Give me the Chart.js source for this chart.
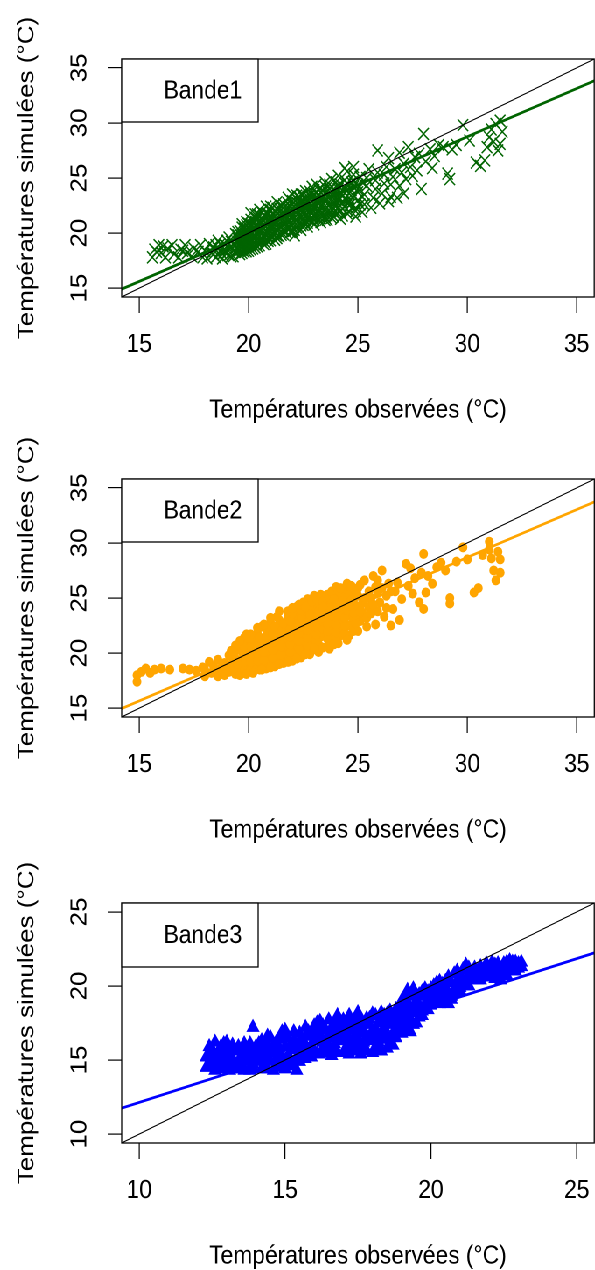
<!DOCTYPE html>
<html><head><meta charset="utf-8">
<script src="https://cdn.jsdelivr.net/npm/chart.js@4.4.1/dist/chart.umd.min.js"></script>
<style>
html,body{margin:0;padding:0;background:#fff;overflow:hidden;width:595px;height:1270px;}
#wrap{position:absolute;left:0;top:0;width:690px;height:1280px;transform:scaleX(0.875);transform-origin:0 0;}
canvas{position:absolute;left:0;}
</style></head><body>
<div id="wrap">
<canvas id="c1" width="690" height="440" style="top:0px"></canvas>
<canvas id="c2" width="690" height="440" style="top:420px"></canvas>
<canvas id="c3" width="690" height="440" style="top:840px"></canvas>
</div>
<script>
// ---------- data ----------
const bandLabels = ['Bande1', 'Bande2', 'Bande3'];
const xTitle = 'Températures observées (°C)';
const yTitle = 'Températures simulées (°C)';
const ticks12 = [15, 20, 25, 30, 35];
const ticks3 = [10, 15, 20, 25];
const range12 = [14.2, 35.8];
const range3 = [9.4, 25.6];
// regression lines: [intercept, slope]
const fit1 = [2.48, 0.8755];
const fit2 = [2.63, 0.8685];
const fit3 = [5.67, 0.647];

const bande1 = [
[15.6,17.8],[15.7,18.5],[15.9,18.9],[16.0,18.2],[16.2,17.8],[16.3,18.6],[16.5,18.9],[16.6,18.1],[16.8,17.8],[16.9,18.5],
[17.1,18.9],[17.2,18.2],[17.4,17.9],[17.5,18.6],[17.7,18.3],[17.8,18.9],[17.9,17.8],[16.1,18.8],[17.0,18.4],[15.8,18.3],
[18.0,18.4],[18.1,17.7],[18.2,19.0],[18.3,18.2],[18.4,18.7],[18.5,17.8],[18.6,19.3],[18.7,18.4],[18.8,17.7],[18.9,19.0],
[19.0,18.2],[19.1,19.6],[19.2,18.7],[19.3,17.9],[19.4,19.9],[19.5,18.5],[18.5,18.9],[18.9,18.5],[19.2,19.2],[19.4,18.9],
[19.6,18.1],[19.6,18.8],[19.6,19.5],[19.6,20.2],[19.7,20.8],
[19.8,18.3],[19.8,19.0],[19.8,19.7],[19.8,20.4],[19.9,21.0],
[20.0,18.4],[20.0,19.1],[20.0,19.8],[20.0,20.5],[20.1,21.2],[20.1,21.8],
[20.2,18.6],[20.2,19.3],[20.2,20.0],[20.3,20.7],[20.3,21.4],
[20.4,18.8],[20.4,19.5],[20.5,20.2],[20.5,20.9],[20.5,21.6],[20.5,22.1],
[20.7,19.0],[20.7,19.7],[20.7,20.4],[20.7,21.1],[20.8,21.8],[20.8,22.4],
[20.9,19.3],[20.9,20.0],[21.0,20.7],[21.0,21.4],[21.0,22.1],
[21.2,19.4],[21.2,20.1],[21.2,20.8],[21.2,21.5],[21.3,22.2],[21.3,22.8],
[21.4,19.7],[21.4,20.4],[21.5,21.1],[21.5,21.8],[21.5,22.5],
[21.6,19.9],[21.7,20.6],[21.7,21.3],[21.7,22.0],[21.8,22.7],[21.8,23.2],
[21.9,20.1],[21.9,20.8],[22.0,21.5],[22.0,22.2],[22.0,22.9],[22.0,23.5],
[22.1,19.8],[22.2,20.5],[22.2,21.2],[22.3,21.9],[22.3,22.6],[22.3,23.3],
[22.4,20.3],[22.5,21.0],[22.5,21.7],[22.5,22.4],[22.6,23.1],[22.6,23.8],
[22.7,20.6],[22.7,21.3],[22.8,22.0],[22.8,22.7],[22.8,23.4],[22.9,24.2],
[23.0,20.8],[23.0,21.5],[23.0,22.2],[23.1,22.9],[23.1,23.6],[23.1,24.4],
[23.3,21.0],[23.3,21.7],[23.3,22.4],[23.4,23.1],[23.4,23.8],[23.5,24.6],
[23.6,21.2],[23.6,21.9],[23.7,22.6],[23.7,23.3],[23.7,24.0],[23.8,24.9],
[23.9,21.5],[23.9,22.2],[24.0,22.9],[24.0,23.6],[24.1,24.3],[24.1,25.2],
[24.2,21.3],[24.2,22.0],[24.3,22.7],[24.3,23.4],[24.4,24.1],[24.4,24.8],[24.5,25.6],
[24.5,21.8],[24.6,22.5],[24.6,23.2],[24.7,23.9],[24.7,24.6],[24.8,25.3],
[24.9,21.5],[24.9,22.3],[25.0,23.0],[25.0,23.7],[25.0,24.4],[25.1,25.1],[24.8,26.0],[24.4,25.9],
[25.2,21.9],[25.3,22.6],[25.3,23.5],[25.4,24.3],[25.4,25.0],[25.5,25.8],
[25.6,22.3],[25.7,23.2],[25.8,24.0],[25.8,24.8],[25.9,25.5],[25.9,27.5],
[26.0,22.7],[26.1,23.6],[26.2,24.5],[26.2,25.3],[26.3,26.0],[26.4,26.8],
[26.5,23.3],[26.5,24.4],[26.6,25.1],[26.7,25.8],[26.8,23.2],[26.4,22.9],
[26.9,24.3],[27.0,25.5],[27.1,26.3],[27.2,24.9],[27.3,27.8],[27.4,26.0],[27.5,25.2],[27.6,26.9],[27.7,25.7],[27.8,27.2],
[27.9,24.0],[28.0,29.0],[28.1,26.5],[28.3,27.6],[28.5,27.0],[28.7,28.0],[28.9,27.8],[28.4,25.9],[27.1,23.6],[26.9,27.3],
[29.1,25.4],[29.2,24.9],[29.3,27.6],[29.5,28.0],[29.8,29.8],[30.1,28.4],[30.4,26.4],[30.6,26.1],[30.8,26.6],
[30.9,27.8],[31.0,28.7],[31.1,29.4],[31.3,29.9],[31.4,27.5],[31.5,28.1],[31.6,29.2],[31.2,28.3],[31.5,30.2],
[19.7,18.5],[19.7,19.2],[19.7,19.9],[19.9,18.7],[19.9,19.4],[19.9,20.1],[19.9,20.7],[20.1,18.8],[20.1,19.5],[20.1,20.2],
[20.1,20.8],[20.3,19.0],[20.3,19.7],[20.3,20.4],[20.3,21.0],[20.4,21.7],[20.6,19.2],[20.6,19.9],[20.6,20.6],[20.6,21.3],
[20.8,19.4],[20.8,20.1],[20.8,20.8],[20.8,21.5],[21.1,19.6],[21.1,20.3],[21.1,21.0],[21.1,21.7],[21.1,22.3],[21.3,19.8],
[21.3,20.5],[21.3,21.2],[21.4,21.9],[21.6,20.2],[21.6,20.9],[21.6,21.6],[21.6,22.3],[21.8,20.4],[21.8,21.1],[21.8,21.8],
[21.9,22.4],[22.1,20.3],[22.1,21.0],[22.1,21.7],[22.1,22.4],[22.2,23.1],[22.4,20.7],[22.4,21.4],[22.4,22.1],[22.4,22.8],
[22.4,23.5],[22.6,20.9],[22.6,21.6],[22.6,22.3],[22.7,23.0],[22.9,21.1],[22.9,21.8],[22.9,22.5],[22.9,23.2],[23.0,23.9],
[23.2,21.3],[23.2,22.0],[23.2,22.7],[23.2,23.4],[23.3,24.1],[23.5,21.5],[23.5,22.2],[23.5,22.9],[23.5,23.6],[23.8,21.7],
[23.8,22.4],[23.8,23.1],[23.8,23.8],[24.0,22.0],[24.0,22.6],[24.1,23.3],[24.1,24.0],[24.3,22.2],[24.3,22.9],[24.4,23.6],
[24.6,22.8],[24.6,23.6],[24.8,24.2],[18.8,18.1],[19.0,18.8],[19.3,18.4],[19.5,19.2],[19.5,19.8],[18.6,18.6],[19.1,18.0],
[18.4,18.1],[18.6,18.0],[18.7,19.0],[18.9,18.3],[19.0,19.3],[19.1,18.6],[19.2,17.9],[19.3,19.0],[19.4,18.3],[19.5,19.5],[19.5,20.1],
[19.6,18.45],[19.6,19.15],[19.6,19.85],[19.7,18.2],[19.7,20.5],[19.8,18.65],[19.8,19.35],[19.8,20.05],[19.9,18.35],[19.9,20.4],
[20.0,18.75],[20.0,19.45],[20.0,20.15],[20.0,20.85],[20.1,18.5],[20.2,18.95],[20.2,19.65],[20.2,20.35],[20.2,21.05],[20.3,18.7],[20.3,21.7],
[20.4,19.15],[20.4,19.85],[20.4,20.55],[20.4,21.25],[20.5,18.9],[20.6,21.95],[20.6,19.55],[20.6,20.25],[20.6,20.95],[20.7,21.65],
[20.8,19.05],[20.9,19.65],[20.9,20.35],[20.9,21.05],[20.9,21.75],[21.0,19.35],[21.0,22.4],[21.1,19.95],[21.1,20.65],[21.1,21.35],[21.2,22.05],
[21.3,19.55],[21.3,20.25],[21.3,20.95],[21.4,21.55],[21.4,22.25],[21.5,19.85],[21.5,20.55],[21.5,21.45],[21.6,22.6],[21.7,20.15],[21.7,20.95],[21.7,21.65],[21.8,22.35],
[21.9,20.45],[21.9,21.15],[21.9,21.85],[22.0,20.2],[22.0,22.55],[22.1,20.65],[22.1,21.35],[22.1,22.05],[22.2,22.75],[22.2,23.4],
[22.3,20.5],[22.3,21.55],[22.3,22.25],[22.4,22.95],[22.5,20.75],[22.5,21.35],[22.5,22.05],[22.5,23.45],[22.6,22.7],[22.7,20.95],[22.7,21.65],[22.7,22.35],[22.7,23.3],
[22.8,21.2],[22.8,23.75],[22.9,21.45],[22.9,22.15],[22.9,22.85],[23.0,21.15],[23.0,23.55],[23.1,21.75],[23.1,22.45],[23.1,23.25],[23.2,23.95],
[23.3,21.35],[23.3,22.05],[23.4,22.75],[23.4,23.45],[23.5,21.2],[23.5,24.2],[23.6,21.6],[23.6,22.3],[23.6,23.05],[23.6,23.75],[23.7,24.4],
[23.8,21.4],[23.9,21.9],[23.9,22.6],[23.9,23.3],[23.9,24.0],[24.0,21.65],[24.0,24.6],[24.1,22.3],[24.1,23.0],[24.2,23.7],[24.2,24.4],
[24.3,21.6],[24.4,22.4],[24.4,23.1],[24.5,23.8],[24.5,24.5],[24.6,21.9],[24.7,22.7],[24.8,23.4],[24.8,24.7],[24.9,22.0],[25.0,24.0],[25.1,22.6],[25.2,23.3],[25.2,24.6]
];

const bande2 = [
[14.9,17.4],[14.9,18.0],[15.1,18.3],[15.3,18.6],[15.5,18.2],[15.7,18.5],[16.0,18.6],[16.4,18.5],[17.0,18.6],[17.3,18.5],[17.6,18.4],[17.9,18.7],
[18.0,17.9],[18.0,18.5],[18.2,19.2],[18.3,18.2],[18.4,18.8],[18.6,17.9],[18.6,19.4],[18.7,18.5],[18.9,18.0],[18.9,19.1],
[19.1,18.3],[19.1,19.8],[19.2,18.9],[19.4,18.1],[19.4,19.5],[19.5,20.3],
[19.6,18.0],[19.6,18.7],[19.7,19.4],[19.7,20.1],[19.7,20.8],[19.8,21.4],
[19.9,18.2],[19.9,18.9],[20.0,19.6],[20.0,20.3],[20.0,21.0],
[20.2,18.3],[20.2,19.0],[20.3,19.7],[20.3,20.4],[20.3,21.1],[20.4,21.8],
[20.5,18.5],[20.5,19.2],[20.6,19.9],[20.6,20.6],[20.6,21.3],[20.6,22.4],
[20.8,18.6],[20.8,19.3],[20.9,20.0],[20.9,20.7],[20.9,21.4],[21.0,22.1],[21.0,22.8],
[21.2,18.8],[21.2,19.5],[21.2,20.2],[21.3,20.9],[21.3,21.6],[21.3,22.3],[21.4,23.0],[21.4,23.8],
[21.6,19.1],[21.6,19.8],[21.6,20.5],[21.7,21.2],[21.7,21.9],[21.7,22.6],[21.8,23.3],
[22.0,19.3],[22.0,20.0],[22.0,20.7],[22.1,21.4],[22.1,22.1],[22.1,22.8],[22.2,23.5],[22.2,24.2],
[22.4,19.6],[22.4,20.3],[22.5,21.0],[22.5,21.7],[22.5,22.4],[22.5,23.1],[22.6,23.8],[22.7,24.9],
[22.8,19.9],[22.8,20.6],[22.9,21.3],[22.9,22.0],[22.9,22.7],[23.0,23.4],[23.0,24.1],[23.0,25.2],
[23.2,20.1],[23.2,20.8],[23.3,21.5],[23.3,22.2],[23.4,22.9],[23.4,23.6],[23.5,24.3],[23.5,25.0],
[23.7,20.4],[23.7,21.1],[23.8,21.8],[23.8,22.5],[23.8,23.2],[23.9,23.9],[23.9,24.6],[24.0,25.4],
[24.1,20.9],[24.2,21.6],[24.2,22.3],[24.2,23.0],[24.3,23.7],[24.3,24.4],[24.4,25.2],[24.5,25.8],
[24.6,21.6],[24.6,22.5],[24.7,23.3],[24.7,24.1],[24.8,24.9],[25.0,25.9],[25.0,22.0],[25.1,22.9],[25.2,23.7],[25.2,24.5],
[25.3,26.6],[25.4,23.2],[25.5,24.2],[25.6,25.0],[25.7,27.0],[25.8,22.6],[25.9,23.8],[25.9,25.5],[26.0,24.6],[26.1,27.5],
[26.2,23.3],[26.3,25.2],[26.4,26.3],[26.5,22.5],
[26.6,24.0],[26.7,25.6],[26.8,26.4],[26.9,23.0],[27.0,24.9],[27.2,28.1],[27.3,26.1],[27.4,27.7],[27.5,25.4],[27.6,26.8],
[27.8,24.6],[27.9,27.3],[28.0,29.0],[28.0,24.0],[28.1,25.5],[28.2,27.0],[28.4,26.3],[28.6,27.8],[28.8,28.2],[29.0,27.5],
[29.2,25.0],[29.2,24.5],[29.5,28.3],[29.8,29.6],[30.0,28.5],[30.3,25.5],[30.5,25.9],[30.7,28.9],[31.0,30.1],[31.1,28.6],
[31.2,27.5],[31.3,26.6],[31.4,29.2],[31.5,28.5],[31.5,27.3],[31.0,29.4],
[19.8,18.5],[19.8,19.2],[19.8,19.9],[19.8,20.6],[20.1,18.5],[20.1,19.2],[20.1,19.9],[20.1,20.6],[20.2,21.3],[20.4,18.6],
[20.4,19.3],[20.4,20.0],[20.4,20.7],[20.5,21.4],[20.7,18.7],[20.7,19.4],[20.7,20.1],[20.7,20.8],[20.8,21.6],[20.8,22.2],
[21.1,18.9],[21.1,19.6],[21.1,20.3],[21.1,21.0],[21.1,21.7],[21.2,22.4],[21.5,19.2],[21.5,19.9],[21.5,20.6],[21.5,21.3],
[21.5,22.0],[21.6,22.7],[21.9,19.4],[21.9,20.1],[21.9,20.8],[21.9,21.5],[21.9,22.2],[21.9,22.9],[22.0,23.6],[22.3,19.7],
[22.3,20.4],[22.3,21.1],[22.3,21.8],[22.3,22.5],[22.4,23.2],[22.4,23.9],[22.7,20.0],[22.7,20.7],[22.7,21.4],[22.7,22.1],
[22.7,22.8],[22.8,23.5],[22.8,24.3],[23.1,20.3],[23.1,21.0],[23.1,21.7],[23.1,22.4],[23.1,23.1],[23.2,23.8],[23.2,24.6],
[23.6,20.6],[23.6,21.3],[23.6,22.0],[23.6,22.7],[23.6,23.4],[23.7,24.1],[23.7,24.9],[24.0,21.2],[24.0,21.9],[24.0,22.6],
[24.0,23.3],[24.1,24.0],[24.1,24.8],[24.4,21.8],[24.4,22.5],[24.4,23.2],[24.5,23.9],[24.6,24.6],[24.3,25.6],[24.8,22.0],
[24.9,22.7],[24.9,23.5],[24.9,24.3],[25.0,25.2],[19.3,18.6],[19.3,19.3],[19.0,18.5],[18.8,18.9],[18.4,18.3],[19.5,19.0],
[21.8,23.8],[22.0,24.1],[22.3,24.4],[22.5,24.6],[22.6,24.2],[22.9,24.7],[23.1,25.0],[23.3,25.3],[23.4,24.7],[23.6,25.3],
[23.8,25.6],[24.0,26.0],[24.2,25.9],[24.3,25.0],[24.5,26.3],[24.6,25.3],[24.7,26.1],[24.9,25.6],[25.1,26.2],[24.5,21.2],
[23.0,20.4],[23.4,20.5],[23.9,20.8],[22.6,19.9],[22.2,19.5],[21.8,19.2],[21.4,19.0],[21.0,18.7],[20.6,18.5],[20.2,18.2],[19.9,18.1],
[21.3,23.3],[21.0,23.2],[20.7,22.6],[20.4,22.3],[20.1,21.7],[19.9,21.7],[19.6,21.1],[19.4,20.7],[19.2,20.2],
[23.4,24.2],[23.9,24.9],[24.3,24.7],[24.7,24.8],[24.8,23.7],[25.1,23.8],[25.3,25.0],[25.5,25.6],[25.4,22.4],[25.6,23.6],
[25.7,24.4],[25.8,26.0],[25.9,26.6],[26.1,25.9],[26.3,24.1],[26.5,25.6]
];

const bande3 = [
[12.3,15.2],[12.4,14.6],[12.5,15.7],[12.6,14.3],[12.7,15.0],[12.8,15.9],[12.9,14.5],[13.0,15.3],[13.1,14.3],[13.2,16.0],
[13.9,17.2],
[13.4,14.4],[13.5,15.3],[13.6,16.1],[13.8,14.3],[13.9,15.1],[14.0,15.9],[14.2,14.4],[14.3,15.2],[14.4,16.0],[14.5,16.5],
[14.6,14.3],[14.7,15.0],[14.8,15.8],[14.9,16.6],[15.0,14.4],[15.1,15.3],[15.2,16.1],[15.3,16.9],[15.4,14.3],[15.5,15.5],
[15.6,16.4],[15.7,17.2],[15.0,17.0],[14.2,16.3],
[15.8,15.3],[15.9,16.0],[16.0,16.8],[16.1,17.5],[16.2,15.4],[16.3,16.2],[16.4,17.0],[16.5,17.7],[16.6,15.3],[16.7,16.1],
[16.8,16.9],[16.9,17.6],[17.0,15.5],[17.0,16.3],[17.0,17.2],
[17.2,15.4],[17.3,16.2],[17.3,17.0],[17.4,17.8],[17.6,15.4],[17.7,16.2],[17.7,17.0],[17.8,17.8],[18.0,15.5],[18.0,16.3],
[18.1,17.1],[18.1,18.0],[18.3,15.6],[18.4,16.4],[18.4,17.2],[18.5,18.1],[18.7,16.0],[18.7,16.8],[18.8,17.6],[18.8,18.4],
[17.5,18.2],[16.8,18.0],
[19.0,16.8],[19.0,17.6],[19.1,18.4],[19.1,19.2],[19.3,16.9],[19.3,17.7],[19.4,18.5],[19.4,19.5],[19.6,18.7],[19.6,17.9],
[19.7,19.6],[19.8,18.8],[19.9,19.6],[20.0,18.7],[19.2,19.7],
[20.1,19.4],[20.2,20.2],[20.3,18.8],[20.4,19.6],[20.5,20.3],[20.6,18.8],[20.6,19.5],[20.8,19.8],[20.9,20.3],[21.0,19.7],
[21.1,21.1],[21.0,20.6],
[21.3,20.0],[21.4,20.8],[21.5,21.2],[21.7,20.4],[21.9,20.6],[22.0,21.2],[22.2,20.5],[22.3,21.5],[22.5,21.0],[22.6,21.6],
[22.8,21.3],[22.9,21.6],[23.1,21.3],[22.4,20.4],
[12.4,15.9],[12.5,14.9],[12.7,15.5],[12.8,14.4],[12.9,16.1],[13.0,14.8],[13.1,15.7],[13.3,14.7],[13.3,15.6],[13.5,14.6],
[13.6,15.7],[13.7,14.9],[13.8,15.6],[13.9,14.7],[14.0,15.4],[14.1,16.1],[14.1,14.9],[14.3,14.6],[14.3,15.7],[14.5,14.9],
[14.5,15.6],[14.7,16.2],[14.7,14.6],[14.8,15.4],[14.9,15.2],[15.0,15.9],[15.1,14.7],[15.2,15.7],[15.3,14.6],[15.3,16.3],
[15.5,14.9],[15.5,16.8],[15.6,15.9],[15.7,15.1],[15.8,16.6],[15.9,15.6],[16.0,17.3],[16.1,15.4],[16.1,16.3],[16.3,15.8],
[16.3,17.3],[16.5,15.6],[16.5,16.5],[16.6,17.2],[16.7,15.7],[16.8,16.4],[16.9,17.0],[17.1,15.8],[17.1,16.7],[17.2,17.5],
[17.4,15.8],[17.4,16.6],[17.5,17.3],[17.6,16.0],[17.6,16.8],[17.8,15.6],[17.9,16.5],[17.9,17.4],[18.0,18.1],[18.2,15.9],
[18.2,16.7],[18.2,17.5],[18.3,18.2],[18.5,15.8],[18.5,16.6],[18.6,17.4],[18.6,18.3],[18.9,17.2],[18.9,18.0],[19.0,19.0],
[19.2,17.3],[19.2,18.1],[19.2,18.8],[19.5,17.5],[19.5,18.2],[19.5,19.0],[19.7,18.3],[19.8,19.3],[19.9,18.4],[20.0,19.2],
[20.1,20.0],[20.2,18.9],[20.3,19.5],[20.4,20.1],[20.5,19.0],[20.7,19.3],[20.7,20.2],[20.8,20.8],[20.9,19.6],[21.0,20.1],
[21.2,20.3],[21.3,20.8],[21.5,20.5],[21.6,21.0],[21.8,20.7],[21.9,21.5],[22.1,20.9],[22.2,21.4],[22.4,21.0],[22.6,21.1],
[22.7,21.7],[22.9,21.0],[23.0,21.5],[21.9,21.3],[22.3,20.8],[21.2,21.4],[20.6,20.6],[19.4,19.8],[18.4,18.0],[17.2,18.0],
[16.2,17.6],[14.9,16.9],[14.4,16.6],
[12.3,14.5],[12.4,15.5],[12.6,15.3],[12.6,16.2],[12.7,14.6],[12.8,15.2],[12.9,15.7],[13.0,14.4],[13.0,16.2],[13.2,15.0],[13.2,14.4],
[13.4,15.9],[13.5,14.9],[13.6,14.3],[13.7,15.4],[13.8,16.1],[13.9,14.4],[14.0,15.0],[14.1,15.6],[14.2,15.0],[14.2,15.8],
[14.4,14.4],[14.4,15.3],[14.6,15.5],[14.6,16.0],[14.8,14.5],[14.8,16.4],[14.9,14.8],[15.1,16.5],[15.2,15.0],[15.4,15.2],
[15.4,15.9],[15.5,16.3],[15.6,15.4],[15.7,16.0],[15.8,16.9],
[15.9,15.2],[16.0,16.3],[16.0,15.5],[16.2,16.7],[16.2,17.2],[16.4,15.5],[16.4,16.3],[16.6,16.8],[16.7,17.5],[16.8,15.5],
[16.9,16.3],[17.0,17.7],[17.1,17.0],
[17.2,16.4],[17.3,15.6],[17.4,17.2],[17.5,16.2],[17.6,17.6],[17.7,15.7],[17.8,16.6],[17.9,17.8],[18.0,17.0],[18.1,15.8],
[18.2,16.2],[18.3,17.7],[18.4,16.9],
[18.5,17.6],[18.6,16.2],[18.7,17.9],[18.8,16.5],[18.8,17.0],[18.9,18.6],[19.0,18.2],[19.1,17.1],[19.2,17.9],[19.3,18.5],
[19.3,19.3],[19.4,17.4],[19.5,18.7],
[19.6,19.4],[19.7,18.0],[19.8,19.8],[19.9,18.9],[20.0,19.8],[20.1,18.9],[20.2,19.6],[20.3,20.3],[20.4,19.2],[20.5,19.8],
[20.6,20.3],[20.7,19.1],
[20.8,19.5],[20.9,21.0],[21.0,19.9],[21.1,20.4],[21.2,20.0],[21.3,21.2],[21.4,20.4],[21.5,20.9],[21.6,20.4],[21.7,21.3],
[21.8,21.0],[22.0,20.6],
[22.1,21.6],[22.2,20.7],[22.3,21.2],[22.5,21.5],[22.6,20.7],[22.8,21.6],[23.0,21.2],[23.1,21.6],[22.7,21.2]
];

// ---------- drawing ----------
const FONT = '"Liberation Sans", Arial, Helvetica, sans-serif';

const framePlugin = {
  id: 'frame',
  afterDatasetsDraw(chart, args, opts) {
    const {ctx, chartArea: a} = chart;
    ctx.save();
    ctx.strokeStyle = '#000';
    ctx.lineWidth = 1.3;
    ctx.strokeRect(a.left, a.top, a.right - a.left, a.bottom - a.top);
    ctx.fillStyle = '#fff';
    ctx.fillRect(a.left, a.top, opts.w, opts.h);
    ctx.strokeRect(a.left, a.top, opts.w, opts.h);
    ctx.fillStyle = '#000';
    ctx.font = '26px ' + FONT;
    ctx.textBaseline = 'middle';
    ctx.textAlign = 'left';
    ctx.fillText(opts.text, a.left + 48, a.top + opts.h / 2 + 1);
    ctx.restore();
  }
};

function makeChart(id, pts, pointCfg, fit, range, tickVals, label, top, legH) {
  const H = 440;
  const xAxisH = 130;
  const bottom = top === 59 ? 297 : 303;
  const padBottom = H - bottom - xAxisH;
  const lo = range[0], hi = range[1];
  const axisCommon = {
    type: 'linear',
    min: lo, max: hi,
    afterBuildTicks: s => { s.ticks = tickVals.map(v => ({value: v})); },
    grid: {display: true, drawOnChartArea: false, drawTicks: true, tickLength: 16, color: '#000', lineWidth: 1.2},
    border: {display: false}
  };
  new Chart(document.getElementById(id), {
    type: 'scatter',
    data: {
      datasets: [
        { type: 'line', data: [{x: lo, y: lo}, {x: hi, y: hi}], borderColor: '#000', borderWidth: 1.1, pointRadius: 0, fill: false },
        { type: 'line', data: [{x: lo, y: fit[0] + fit[1] * lo}, {x: hi, y: fit[0] + fit[1] * hi}], borderColor: pointCfg.color, borderWidth: 2.8, pointRadius: 0, fill: false },
        { data: pts.map(p => ({x: p[0], y: p[1]})), pointStyle: pointCfg.style, pointRadius: pointCfg.radius,
          backgroundColor: pointCfg.color, borderColor: pointCfg.color, borderWidth: pointCfg.bw, showLine: false }
      ]
    },
    options: {
      responsive: false,
      animation: false,
      devicePixelRatio: 2,
      layout: {padding: {left: 0, right: 7, top: top, bottom: padBottom}},
      plugins: {legend: {display: false}, tooltip: {enabled: false}, frame: {text: label, w: 156, h: legH}},
      scales: {
        x: Object.assign({}, axisCommon, {
          position: 'bottom',
          afterFit: s => { s.height = xAxisH; },
          ticks: {color: '#000', font: {family: FONT, size: 26}, padding: 16, maxRotation: 0, autoSkip: false},
          title: {display: true, text: xTitle, color: '#000', font: {family: FONT, size: 26}, padding: {top: 0, bottom: 1}}
        }),
        y: Object.assign({}, axisCommon, {
          position: 'left',
          afterFit: s => { s.width = 139; },
          ticks: {color: '#000', font: {family: FONT, size: 26}, padding: 17, minRotation: 90, maxRotation: 90, crossAlign: 'center', autoSkip: false},
          title: {display: true, text: yTitle, color: '#000', font: {family: FONT, size: 26}, padding: {top: 15, bottom: 0}}
        })
      }
    },
    plugins: [framePlugin]
  });
}

makeChart('c1', bande1, {color: '#006400', style: 'crossRot', radius: 8.5, bw: 1.5}, fit1, range12, ticks12, bandLabels[0], 59, 63);
makeChart('c2', bande2, {color: '#FFA500', style: 'circle', radius: 5, bw: 0}, fit2, range12, ticks12, bandLabels[1], 59, 63);
makeChart('c3', bande3, {color: '#0000FF', style: 'triangle', radius: 8.8, bw: 0}, fit3, range3, ticks3, bandLabels[2], 63, 64);
</script>
</body></html>
